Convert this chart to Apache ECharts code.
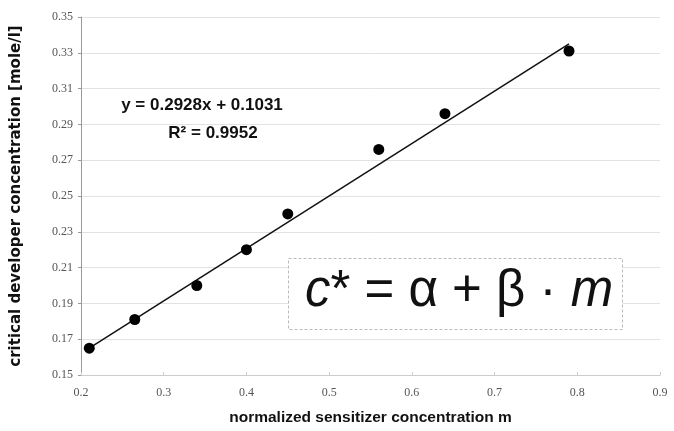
<!DOCTYPE html>
<html>
<head>
<meta charset="utf-8">
<script src="https://cdn.jsdelivr.net/npm/echarts@6/dist/echarts.min.js"></script>
<style>html,body{margin:0;padding:0;background:#fff;}#c{width:674px;height:431px;}</style>
</head>
<body>
<div id="c"></div>
<script>
// data
var sensitizerX = [0.21, 0.265, 0.34, 0.40, 0.45, 0.56, 0.64, 0.79];
var developerY  = [0.165, 0.181, 0.200, 0.220, 0.240, 0.276, 0.296, 0.331];
var trendX = [0.21, 0.79];
var trendY = [0.165, 0.335];
var xTicks = [0.2, 0.3, 0.4, 0.5, 0.6, 0.7, 0.8, 0.9];
var yTicks = [0.15, 0.17, 0.19, 0.21, 0.23, 0.25, 0.27, 0.29, 0.31, 0.33, 0.35];
var equationText = 'y = 0.2928x + 0.1031';
var r2Text = 'R² = 0.9952';
var xTitle = 'normalized sensitizer concentration m';
var yTitle = 'critical developer concentration [mole/l]';

var points = sensitizerX.map(function (x, i) { return [x, developerY[i]]; });
var trend = trendX.map(function (x, i) { return [x, trendY[i]]; });

var chart = echarts.init(document.getElementById('c'), null, {renderer: 'canvas'});
var labelStyle = {color: '#555', fontSize: 12, fontFamily: 'Liberation Serif, serif'};
chart.setOption({
  animation: false,
  backgroundColor: '#fff',
  grid: {left: 81, right: 14, top: 17, bottom: 54},
  xAxis: {
    type: 'value', min: xTicks[0], max: xTicks[xTicks.length - 1], interval: 0.1,
    name: xTitle, nameLocation: 'middle', nameGap: 35,
    nameTextStyle: {fontWeight: 'bold', fontSize: 15.5, color: '#111', fontFamily: 'Liberation Sans, Arial, sans-serif'},
    axisLine: {show: true, lineStyle: {color: '#ccc'}},
    axisTick: {show: true, length: 3, inside: true, lineStyle: {color: '#ccc'}},
    splitLine: {show: false},
    axisLabel: Object.assign({margin: 12, formatter: function (v) { return v.toFixed(1); }}, labelStyle)
  },
  yAxis: {
    type: 'value', min: yTicks[0], max: yTicks[yTicks.length - 1], interval: 0.02,
    name: yTitle, nameLocation: 'middle', nameGap: 57,
    nameTextStyle: {fontWeight: 'bold', fontSize: 15, color: '#111', fontFamily: 'DejaVu Sans, sans-serif'},
    axisLine: {show: true, lineStyle: {color: '#999'}},
    axisTick: {show: true, length: 3, lineStyle: {color: '#999'}},
    splitLine: {show: true, lineStyle: {color: '#e2e2e2', width: 1}},
    axisLabel: Object.assign({margin: 8, formatter: function (v) { return v.toFixed(2); }}, labelStyle)
  },
  graphic: [
    {type: 'rect', z: 10, shape: {x: 288.5, y: 258.5, width: 334, height: 71},
     style: {fill: '#fff', stroke: '#bbb', lineWidth: 1, lineDash: [3, 2]}},
    {type: 'text', z: 11, left: 305, top: 266,
     style: {
       text: '{i|c}{n|* = α + β · }{i|m}',
       rich: {
         i: {fontSize: 51, fontStyle: 'italic', fontFamily: 'Liberation Sans, Arial, sans-serif', fill: '#111'},
         n: {fontSize: 51, fontFamily: 'Liberation Sans, Arial, sans-serif', fill: '#111'}
       }
     }},
    {type: 'text', z: 11, x: 202, y: 105,
     style: {text: equationText, fontSize: 17, fontWeight: 'bold', fill: '#111', align: 'center', verticalAlign: 'middle', fontFamily: 'Liberation Sans, Arial, sans-serif'}},
    {type: 'text', z: 11, x: 213, y: 133,
     style: {text: r2Text, fontSize: 17, fontWeight: 'bold', fill: '#111', align: 'center', verticalAlign: 'middle', fontFamily: 'Liberation Sans, Arial, sans-serif'}}
  ],
  series: [
    {type: 'line', data: trend, symbol: 'none', lineStyle: {color: '#111', width: 1.5}, z: 3},
    {type: 'scatter', data: points, symbol: 'circle', symbolSize: 11, itemStyle: {color: '#000', opacity: 1}, z: 4}
  ]
});
</script>
</body>
</html>
